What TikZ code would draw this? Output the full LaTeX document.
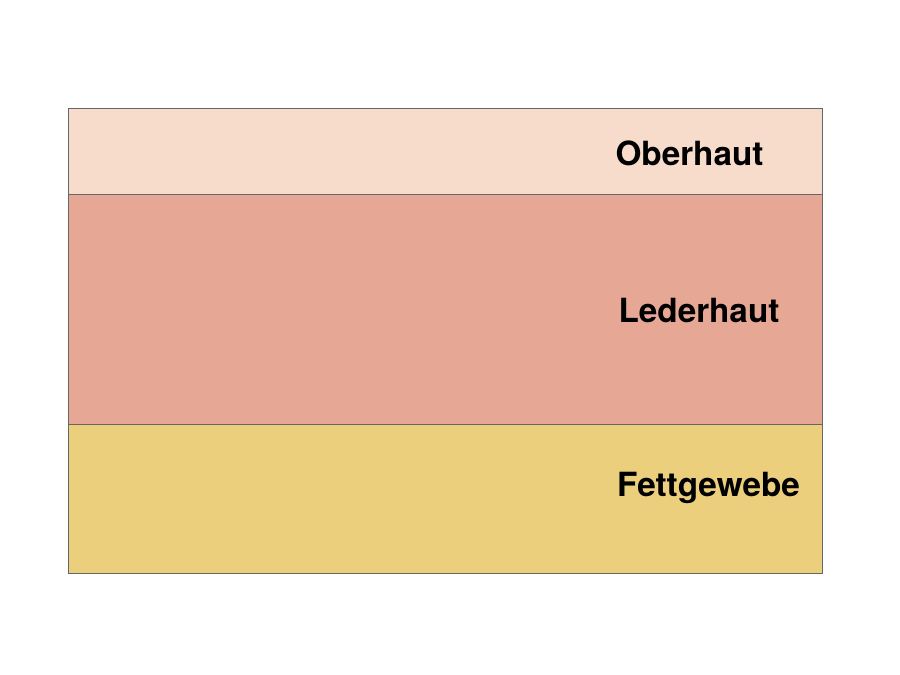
\documentclass[tikz,border=0pt]{standalone}
\usepackage{fontspec}
\setmainfont{TeX Gyre Heros}
\usepackage{tikz}
\usepackage{xcolor}
\definecolor{oberhaut}{HTML}{F7DCCC}
\definecolor{lederhaut}{HTML}{E6A895}
\definecolor{fett}{HTML}{EBCF7C}
\definecolor{rand}{HTML}{666666}
\begin{document}
\begin{tikzpicture}[x=1pt,y=-1pt,
  schicht/.style={draw=rand,line width=0.9pt},
  label/.style={anchor=base,font=\fontsize{33.3}{36}\selectfont\bfseries,inner sep=0}]
\useasboundingbox (0,0) rectangle (900,675);
\filldraw[schicht,fill=oberhaut] (68,108) rectangle (822,194);
\filldraw[schicht,fill=lederhaut] (68,194) rectangle (822,424);
\filldraw[schicht,fill=fett] (68,424) rectangle (822,573);
\node[label] (ober) at (689.5,165) {Oberhaut};
\node[label] (leder) at (699,322) {Lederhaut};
\node[label] (fettgewebe) at (708.5,496) {Fettgewebe};
\end{tikzpicture}
\end{document}
